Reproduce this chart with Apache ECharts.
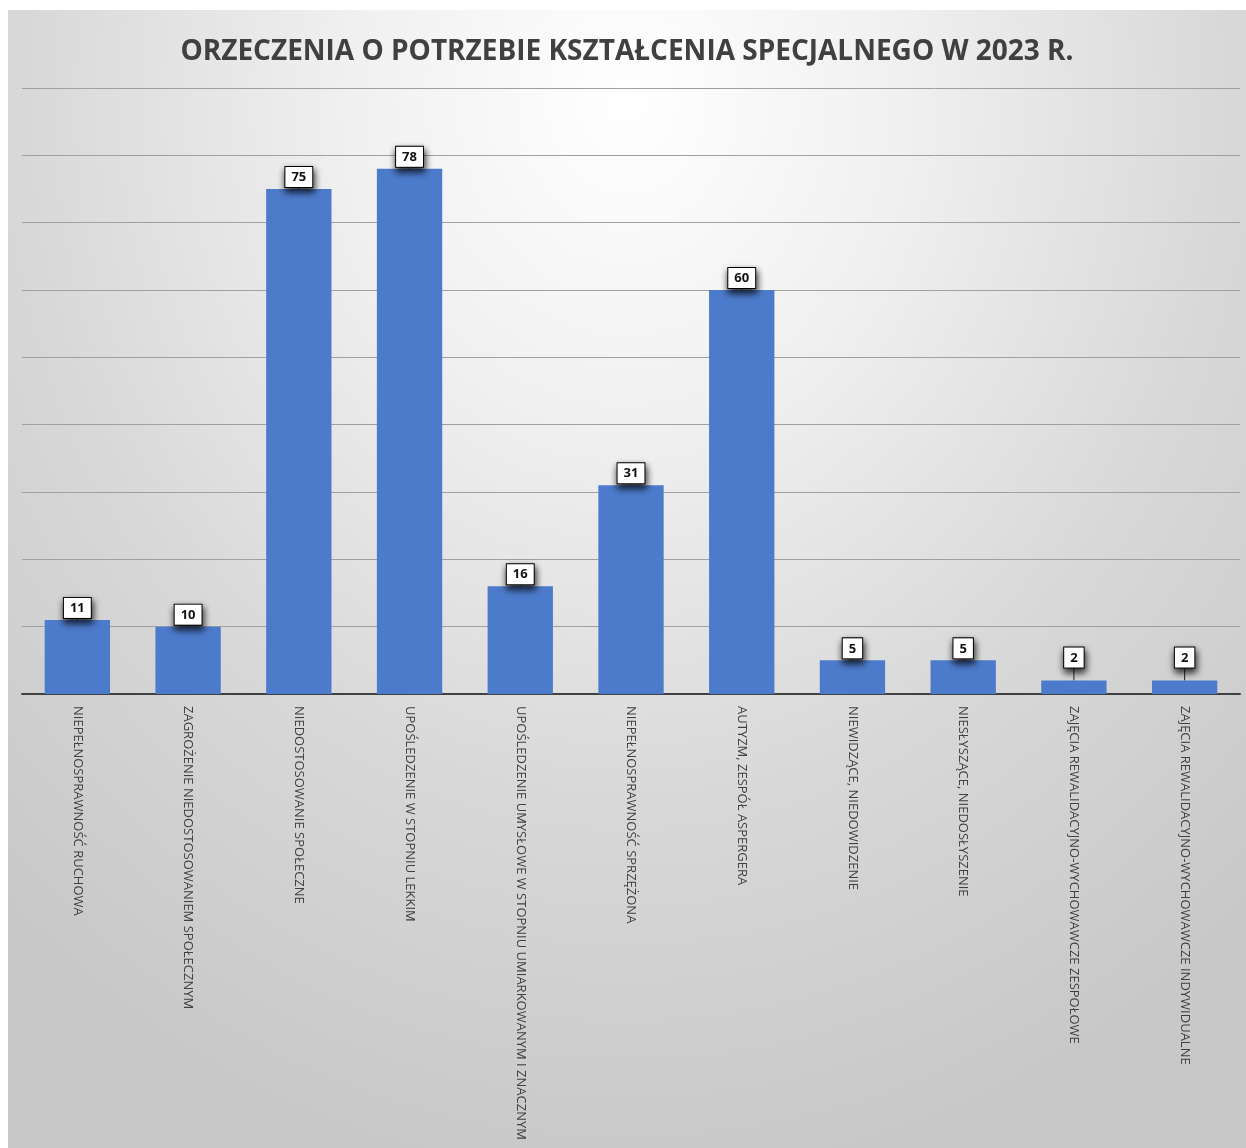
<!DOCTYPE html>
<html>
<head>
<meta charset="utf-8">
<script src="https://cdn.jsdelivr.net/npm/echarts@6/dist/echarts.min.js"></script>
<style>
  html, body { margin: 0; padding: 0; background: #fff; }
  #main {
    position: absolute; left: 8px; top: 10px; width: 1238px; height: 1138px;
    background: radial-gradient(ellipse 75% 95% at 50% 8%, #ffffff 0%, #f0f0f0 30%, #d8d8d8 65%, #c8c8c8 100%);
  }
</style>
</head>
<body>
<div id="main"></div>
<script>
// kategorie orzeczeń
var categories = [
  'NIEPEŁNOSPRAWNOŚĆ RUCHOWA',
  'ZAGROŻENIE NIEDOSTOSOWANIEM SPOŁECZNYM',
  'NIEDOSTOSOWANIE SPOŁECZNE',
  'UPOŚLEDZENIE W STOPNIU LEKKIM',
  'UPOŚLEDZENIE UMYSŁOWE W STOPNIU UMIARKOWANYM I ZNACZNYM',
  'NIEPEŁNOSPRAWNOŚĆ SPRZĘŻONA',
  'AUTYZM, ZESPÓŁ ASPERGERA',
  'NIEWIDZĄCE, NIEDOWIDZENIE',
  'NIESŁYSZĄCE, NIEDOSŁYSZENIE',
  'ZAJĘCIA REWALIDACYJNO-WYCHOWAWCZE ZESPOŁOWE',
  'ZAJĘCIA REWALIDACYJNO-WYCHOWAWCZE INDYWIDUALNE'
];
var counts = [11, 10, 75, 78, 16, 31, 60, 5, 5, 2, 2];
var chartTitle = 'ORZECZENIA O POTRZEBIE KSZTAŁCENIA SPECJALNEGO W 2023 R.';

var myChart = echarts.init(document.getElementById('main'));
var option = {
  backgroundColor: 'transparent',
  title: {
    text: chartTitle,
    left: 'center',
    top: 23,
    textStyle: {
      fontFamily: 'Open Sans',
      fontSize: 28,
      fontWeight: 'bold',
      color: '#404040'
    }
  },
  grid: { left: 14, right: 6, top: 78, bottom: 454, containLabel: false },
  xAxis: {
    type: 'category',
    data: categories,
    axisTick: { show: false },
    axisLine: { lineStyle: { color: '#404040', width: 2 } },
    axisLabel: {
      rotate: -90,
      interval: 0,
      margin: 12,
      fontFamily: 'Open Sans',
      fontSize: 13,
      color: '#404040'
    }
  },
  yAxis: {
    type: 'value',
    min: 0,
    max: 90,
    interval: 10,
    axisLabel: { show: false },
    axisLine: { show: false },
    axisTick: { show: false },
    splitLine: { lineStyle: { color: '#a0a0a0', width: 1 } }
  },
  series: [
    {
      type: 'bar',
      data: counts,
      barCategoryGap: '41%',
      itemStyle: { color: '#4d7bcb' },
      label: {
        show: true,
        position: 'top',
        distance: 2,
        fontFamily: 'Open Sans',
        fontWeight: 'bold',
        fontSize: 13,
        color: '#111',
        backgroundColor: '#fff',
        borderColor: '#000',
        borderWidth: 1,
        padding: [4, 6, 3, 6],
        shadowColor: 'rgba(0,0,0,0.85)',
        shadowBlur: 7,
        shadowOffsetX: 1,
        shadowOffsetY: 4
      },
      // krótkie słupki: etykieta podniesiona z linią odniesienia
      labelLayout: function (params) {
        return counts[params.dataIndex] < 3 ? { dy: -11 } : {};
      },
      labelLine: { show: true, lineStyle: { color: '#222', width: 1 } }
    }
  ]
};
option && myChart.setOption(option);
</script>
</body>
</html>
